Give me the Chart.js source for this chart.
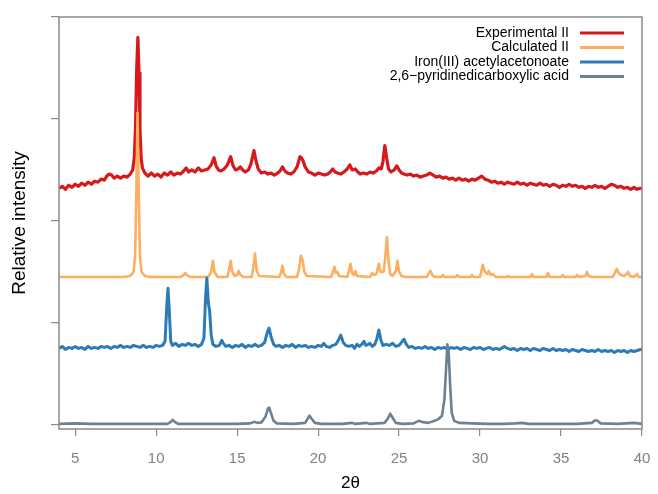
<html>
<head>
  <title>PXRD patterns</title>
  <script src="https://cdn.jsdelivr.net/npm/chart.js"></script>
  <style>
    body { margin: 0; background: #fff; }
    #wrap { width: 658px; height: 494px; }
  </style>
</head>
<body>
  <div id="wrap"><canvas id="Chart" width="658" height="494"></canvas></div>
  <script>
// series labels and colours, in legend order
const seriesNames = ['Experimental II', 'Calculated II', 'Iron(III) acetylacetonoate', '2,6\u2212pyridinedicarboxylic acid'];
const seriesColors = ['#d7191c', '#fdae61', '#2c7bb6', '#708090'];

const xTicks = [5, 10, 15, 20, 25, 30, 35, 40];
const yTicks = [0, 100, 200, 300, 400];

// [2theta, relative intensity (offset stacked)]
const experimental = [[4.0,232],[4.2,234],[4.4,231],[4.6,235],[4.8,233],[5.0,236],[5.2,234],[5.4,237],[5.6,235],[5.8,238],[6.0,236],[6.2,239],[6.4,238],[6.6,241],[6.8,240],[6.95,244],[7.1,246],[7.25,245],[7.4,242],[7.6,244],[7.8,242],[8.0,244],[8.2,243],[8.4,246],[8.55,250],[8.65,262],[8.72,290],[8.8,350],[8.87,380],[8.94,345],[9.0,290],[9.07,262],[9.15,252],[9.3,247],[9.5,244],[9.7,247],[9.9,244],[10.1,246],[10.3,243],[10.5,247],[10.7,245],[10.9,248],[11.1,245],[11.3,247],[11.5,246],[11.7,249],[11.85,252],[12.0,248],[12.2,250],[12.4,248],[12.6,252],[12.8,249],[13.0,250],[13.2,251],[13.4,255],[13.57,262],[13.7,254],[13.85,250],[14.0,249],[14.2,251],[14.4,255],[14.6,263],[14.75,254],[14.9,250],[15.05,251],[15.2,253],[15.35,250],[15.5,248],[15.7,250],[15.85,256],[16.04,269],[16.15,260],[16.3,251],[16.5,247],[16.7,248],[16.9,246],[17.1,247],[17.3,245],[17.5,247],[17.65,249],[17.8,253],[17.95,249],[18.1,247],[18.3,246],[18.5,248],[18.7,253],[18.88,263],[18.97,262],[19.07,259],[19.2,253],[19.4,248],[19.6,247],[19.8,245],[20.0,247],[20.2,246],[20.4,245],[20.6,246],[20.75,248],[20.9,251],[21.05,248],[21.2,247],[21.4,246],[21.6,248],[21.8,251],[21.96,255],[22.1,250],[22.3,251],[22.45,248],[22.6,246],[22.8,247],[23.0,246],[23.2,248],[23.4,247],[23.6,249],[23.75,252],[23.9,251],[24.0,258],[24.12,274],[24.23,262],[24.35,251],[24.5,248],[24.7,250],[24.86,254],[25.0,250],[25.15,247],[25.3,246],[25.5,245],[25.7,246],[25.9,244],[26.1,245],[26.3,243],[26.5,244],[26.7,245],[26.9,247],[27.1,245],[27.3,243],[27.5,244],[27.7,242],[27.9,243],[28.1,241],[28.3,242],[28.5,240],[28.7,242],[28.9,240],[29.1,241],[29.3,239],[29.5,241],[29.7,240],[29.9,242],[30.1,244],[30.3,241],[30.5,240],[30.7,238],[30.9,239],[31.1,237],[31.3,238],[31.5,236],[31.7,238],[31.9,237],[32.1,236],[32.3,238],[32.5,236],[32.7,237],[32.9,235],[33.1,237],[33.3,236],[33.5,235],[33.7,237],[33.9,235],[34.1,236],[34.3,234],[34.5,236],[34.7,235],[34.9,233],[35.1,235],[35.3,234],[35.5,236],[35.7,234],[35.9,235],[36.1,233],[36.3,234],[36.5,232],[36.7,234],[36.9,233],[37.1,235],[37.3,233],[37.5,234],[37.7,232],[37.9,234],[38.1,236],[38.3,235],[38.5,233],[38.7,234],[38.9,232],[39.1,233],[39.3,231],[39.5,233],[39.7,231],[39.9,232],[40.0,232]];

const calculated = [[4.0,145],[5.0,145],[6.0,145],[7.0,145],[8.0,145],[8.4,146],[8.6,150],[8.7,165],[8.78,230],[8.85,306],[8.92,230],[9.0,165],[9.1,150],[9.3,146],[9.6,145],[11.5,145],[11.7,147],[11.8,149],[11.9,147],[12.1,145],[13.2,145],[13.4,150],[13.5,161],[13.6,150],[13.8,145],[14.4,145],[14.5,152],[14.6,161],[14.7,150],[14.85,146],[15.0,147],[15.1,151],[15.2,147],[15.4,145],[15.9,145],[16.0,155],[16.1,168],[16.2,152],[16.35,146],[17.6,145],[17.7,149],[17.8,156],[17.9,148],[18.05,145],[18.7,145],[18.85,155],[18.93,166],[19.05,161],[19.15,150],[19.3,146],[20.8,145],[20.92,150],[21.0,155],[21.1,149],[21.2,150],[21.3,146],[21.8,145],[21.92,152],[22.0,158],[22.1,149],[22.2,147],[22.3,151],[22.4,146],[23.2,145],[23.35,149],[23.45,147],[23.6,148],[23.75,158],[23.85,150],[24.05,150],[24.15,165],[24.25,184],[24.35,160],[24.45,148],[24.6,146],[24.8,151],[24.9,161],[25.0,150],[25.15,146],[25.4,145],[26.7,145],[26.85,149],[26.93,151],[27.05,147],[27.2,145],[27.6,145],[27.7,147],[27.8,145],[28.5,145],[28.6,147],[28.7,145],[29.4,145],[29.5,147],[29.6,145],[30.0,145],[30.1,152],[30.17,157],[30.3,150],[30.45,148],[30.55,151],[30.65,147],[30.8,148],[30.95,145],[31.6,145],[31.7,146],[31.8,145],[33.1,145],[33.2,148],[33.3,145],[34.1,145],[34.2,149],[34.3,145],[35.0,145],[35.1,147],[35.2,145],[35.9,145],[36.0,147],[36.1,145],[36.5,146],[36.6,150],[36.7,146],[36.9,145],[38.2,145],[38.35,150],[38.45,153],[38.55,149],[38.7,147],[38.9,146],[39.05,148],[39.15,150],[39.25,146],[39.5,145],[39.7,148],[39.8,145],[40.0,145]];

const ironAcac = [[4.0,75],[4.2,77],[4.4,74],[4.6,76],[4.8,75],[5.0,77],[5.2,75],[5.4,76],[5.6,74],[5.8,77],[6.0,75],[6.2,76],[6.4,75],[6.6,77],[6.8,76],[7.0,77],[7.2,75],[7.4,77],[7.6,76],[7.8,78],[8.0,76],[8.2,77],[8.4,76],[8.6,78],[8.8,77],[9.0,76],[9.2,78],[9.4,76],[9.6,77],[9.8,76],[10.0,78],[10.2,77],[10.4,78],[10.55,82],[10.65,115],[10.73,134],[10.81,112],[10.9,82],[11.0,78],[11.2,80],[11.4,77],[11.6,79],[11.8,78],[12.0,80],[12.2,78],[12.4,79],[12.6,77],[12.8,79],[12.95,85],[13.05,125],[13.13,144],[13.22,120],[13.3,112],[13.4,88],[13.5,79],[13.7,77],[13.9,78],[14.05,83],[14.15,80],[14.3,77],[14.5,78],[14.7,76],[14.9,78],[15.1,77],[15.3,79],[15.5,76],[15.7,78],[15.9,77],[16.1,79],[16.3,77],[16.5,78],[16.7,81],[16.85,90],[16.97,95],[17.1,86],[17.25,79],[17.4,77],[17.6,78],[17.8,76],[18.0,78],[18.2,77],[18.4,79],[18.6,76],[18.8,78],[19.0,77],[19.2,78],[19.4,76],[19.6,77],[19.8,76],[20.0,78],[20.2,77],[20.35,80],[20.5,77],[20.7,76],[20.9,78],[21.1,79],[21.25,83],[21.4,88],[21.55,81],[21.7,78],[21.9,77],[22.1,78],[22.25,75],[22.4,79],[22.55,77],[22.7,79],[22.83,82],[22.95,78],[23.1,79],[23.2,80],[23.35,77],[23.5,79],[23.62,84],[23.75,93],[23.88,83],[24.0,78],[24.2,79],[24.4,78],[24.6,80],[24.8,77],[25.0,78],[25.15,81],[25.3,84],[25.45,79],[25.6,76],[25.8,77],[26.0,75],[26.2,76],[26.4,75],[26.6,77],[26.8,75],[27.0,76],[27.2,74],[27.4,76],[27.6,75],[27.8,76],[28.0,74],[28.2,76],[28.4,75],[28.6,76],[28.8,74],[29.0,76],[29.2,75],[29.4,74],[29.6,76],[29.8,75],[30.0,76],[30.2,74],[30.4,75],[30.6,76],[30.8,74],[31.0,75],[31.2,74],[31.4,76],[31.5,77],[31.7,75],[31.9,74],[32.1,75],[32.3,73],[32.5,75],[32.7,74],[32.9,75],[33.1,73],[33.3,75],[33.5,74],[33.7,73],[33.9,75],[34.1,74],[34.3,73],[34.5,75],[34.7,73],[34.9,74],[35.1,73],[35.3,74],[35.5,72],[35.7,74],[35.9,73],[36.1,72],[36.3,74],[36.5,73],[36.7,72],[36.9,73],[37.1,72],[37.3,74],[37.5,72],[37.7,73],[37.9,72],[38.1,73],[38.3,71],[38.5,73],[38.7,72],[38.9,73],[39.1,71],[39.3,73],[39.5,72],[39.7,73],[39.9,74],[40.0,74]];

const pyridineAcid = [[4.0,1],[5.0,1.5],[6.0,1],[7.0,1],[8.0,1],[9.0,1],[10.0,1],[10.7,1],[10.9,3],[11.02,5],[11.15,3],[11.35,1],[13.0,1],[14.0,1],[15.0,1],[15.8,1.5],[16.05,3],[16.25,2],[16.5,2.5],[16.75,8],[16.9,16],[16.98,17],[17.1,11],[17.25,4],[17.45,1.5],[18.5,1],[19.2,2],[19.35,6],[19.47,9],[19.6,6],[19.8,2],[20.2,1],[21.5,1],[22.1,2],[22.3,1],[23.0,2],[23.2,1],[24.1,2],[24.3,6],[24.45,11],[24.6,7],[24.8,2],[25.2,1],[25.9,1.5],[26.2,4],[26.4,3],[26.8,2],[27.2,4],[27.45,6],[27.65,9],[27.8,25],[27.9,55],[27.98,79],[28.06,72],[28.15,40],[28.25,12],[28.4,4],[28.7,2],[29.5,1.5],[30.5,1],[31.5,1],[32.2,1.5],[32.6,2],[33.0,1],[34.0,1],[35.0,1],[36.0,1],[36.9,2],[37.1,4.5],[37.25,4],[37.45,1.5],[38.5,1],[39.5,2],[40.0,1]];

const seriesData = [experimental, calculated, ironAcac, pyridineAcid];
const seriesWidths = [3.2, 2.6, 3.0, 2.6];

const FONT = '"Liberation Sans", Arial, sans-serif';

// legend drawn top-right inside the plot, text right-aligned with the line sample after it
const rightLegend = {
  id: 'rightLegend',
  afterDraw(chart) {
    const { ctx, chartArea } = chart;
    ctx.save();
    ctx.font = '14px ' + FONT;
    ctx.textAlign = 'right';
    ctx.textBaseline = 'middle';
    chart.data.datasets.forEach((ds, i) => {
      const y = chartArea.top + 16 + i * 14.5;
      ctx.fillStyle = '#000';
      ctx.fillText(ds.label, chartArea.right - 73, y);
      ctx.strokeStyle = ds.borderColor;
      ctx.lineWidth = 3;
      ctx.beginPath();
      ctx.moveTo(chartArea.right - 62, y);
      ctx.lineTo(chartArea.right - 18, y);
      ctx.stroke();
    });
    ctx.restore();
  }
};

const frameBox = {
  id: 'frameBox',
  afterDraw(chart) {
    const { ctx, chartArea: a } = chart;
    ctx.save();
    ctx.strokeStyle = '#8a8a8a';
    ctx.lineWidth = 1.5;
    ctx.strokeRect(a.left, a.top, a.right - a.left, a.bottom - a.top);
    ctx.restore();
  }
};

const config = {
  type: 'line',
  data: {
    datasets: seriesNames.map((name, i) => ({
      label: name,
      data: seriesData[i].map(p => ({ x: p[0], y: p[1] })),
      borderColor: seriesColors[i],
      borderWidth: seriesWidths[i],
      pointRadius: 0,
      tension: 0,
      borderJoinStyle: 'round',
      order: 4 - i
    }))
  },
  options: {
    responsive: false,
    animation: false,
    layout: { padding: { top: 17, right: 16, left: 0, bottom: 0 } },
    plugins: { legend: { display: false }, tooltip: { enabled: false } },
    scales: {
      x: {
        type: 'linear',
        min: 4,
        max: 40,
        afterBuildTicks: s => { s.ticks = xTicks.map(v => ({ value: v })); },
        afterFit: s => { s.height = 65; s.paddingLeft = 0; s.paddingRight = 0; },
        grid: { drawOnChartArea: false, drawTicks: true, tickLength: 7, color: '#8a8a8a', lineWidth: 1.2 },
        border: { display: false },
        ticks: { color: '#808080', font: { size: 15, family: FONT }, padding: 14, maxRotation: 0 },
        title: { display: true, text: '2\u03b8', color: '#000', font: { size: 17, family: FONT }, padding: { top: 0, bottom: 0 } }
      },
      y: {
        type: 'linear',
        min: -4,
        max: 400,
        afterBuildTicks: s => { s.ticks = yTicks.map(v => ({ value: v })); },
        afterFit: s => { s.width = 59; s.paddingTop = 0; s.paddingBottom = 0; },
        grid: { drawOnChartArea: false, drawTicks: true, tickLength: 8, color: '#8a8a8a', lineWidth: 1.2 },
        border: { display: false },
        ticks: { callback: () => '', padding: 0 },
        title: { display: true, text: 'Relative intensity', color: '#000', font: { size: 19, family: FONT }, padding: { top: 8, bottom: 0 } }
      }
    }
  },
  plugins: [rightLegend, frameBox]
};

const chart = new Chart(document.getElementById('Chart').getContext('2d'), config);
  </script>
</body>
</html>
